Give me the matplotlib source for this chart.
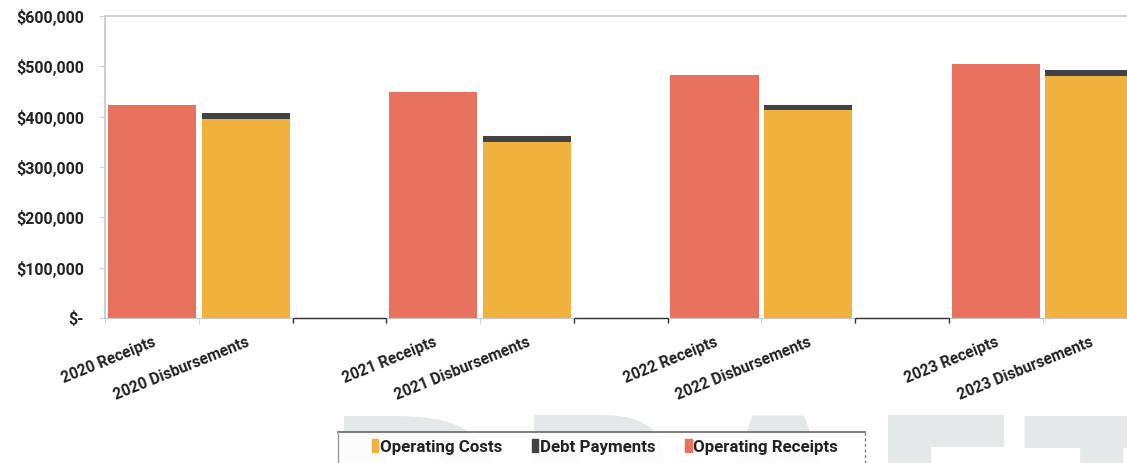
import matplotlib
matplotlib.use("Agg")
import matplotlib.pyplot as plt
from matplotlib.patches import Patch, Rectangle
import numpy as np

# Category slots (blank strings are spacer slots between years)
categories = ["2020 Receipts", "2020 Disbursements", "",
              "2021 Receipts", "2021 Disbursements", "",
              "2022 Receipts", "2022 Disbursements", "",
              "2023 Receipts", "2023 Disbursements"]

operating_receipts = [423000, 0, 0, 450000, 0, 0, 483000, 0, 0, 505000, 0]
operating_costs    = [0, 395000, 0, 0, 350000, 0, 0, 413000, 0, 0, 481000]
debt_payments      = [0, 13000, 0, 0, 12000, 0, 0, 10000, 0, 0, 12000]

y_ticks = [0, 100000, 200000, 300000, 400000, 500000, 600000]

series_names = ["Operating Costs", "Debt Payments", "Operating Receipts"]
c_receipts = "#E9725F"
c_costs = "#F0B23C"
c_debt = "#404246"

plt.rcParams["font.family"] = ["Roboto", "DejaVu Sans"]

W, H = 1127, 463
fig = plt.figure(figsize=(W / 100, H / 100), dpi=100)
ax = fig.add_axes([105 / W, 1 - 318 / H, 1 - 105 / W, (318 - 16) / H])

x = np.arange(len(categories))
w = 0.94
ax.bar(x, operating_receipts, width=w, color=c_receipts, zorder=2)
ax.bar(x, operating_costs, width=w, color=c_costs, zorder=2)
ax.bar(x, debt_payments, width=w, bottom=operating_costs, color=c_debt, zorder=2)


def money(v):
    return "$-" if v == 0 else "${:,.0f}".format(v)


ax.set_yticks(y_ticks, [money(v) for v in y_ticks], fontsize=11.5,
              fontweight="bold", color="#222222", family="Roboto")
ax.tick_params(axis="y", length=4, color="#d0d0d0", pad=11)

# frame: light grey top/left/bottom, no right edge
ax.spines["right"].set_visible(False)
for side in ("top", "left", "bottom"):
    ax.spines[side].set_color("#c8c8c8")
ax.spines["top"].set_linewidth(1.2)
ax.spines["left"].set_linewidth(1.2)

# darker baseline and edge ticks under the spacer slots
gaps = [i for i, c in enumerate(categories) if c == ""]
for g in gaps:
    ax.hlines(0, g - 0.5, g + 0.5, color="#333333", linewidth=1.0, zorder=3,
              clip_on=False)
    for edge in (g - 0.5, g + 0.5):
        ax.vlines(edge, -9000, 0, color="#333333", linewidth=1.0, zorder=3,
                  clip_on=False)

ax.set_xticks(x, categories, rotation=22, ha="right", va="top",
              rotation_mode="anchor", fontsize=11.2, fontweight="bold",
              color="#222222", family="Roboto")
ax.tick_params(axis="x", length=0, pad=12)
ax.set_xticks(np.arange(-0.5, len(categories), 1.0), minor=True)
ax.tick_params(axis="x", which="minor", length=4, color="#c8c8c8")

# limits last: the last disbursement bar runs off the right edge
ax.set_xlim(-0.5, 10.4)
ax.set_ylim(0, 600000)

# watermark
fig.text(0.667, 1 - 408 / H, "DRAFT", fontsize=165, fontweight="bold",
         color="#e5e8e9", ha="center", va="top", zorder=0,
         family=["DejaVu Sans"])

# legend box
fig.patches.append(Rectangle((338 / W, 0), (865 - 338) / W, 1 - 432 / H,
                             transform=fig.transFigure, facecolor="white",
                             alpha=0.85, edgecolor="none", zorder=1))
fig.lines.append(plt.Line2D([338 / W, 865 / W], [1 - 432 / H] * 2,
                            transform=fig.transFigure, color="#666666",
                            linewidth=1.2, zorder=2))
fig.lines.append(plt.Line2D([338 / W] * 2, [0, 1 - 432 / H],
                            transform=fig.transFigure, color="#9a9a9a",
                            linewidth=1.0, zorder=2))
fig.lines.append(plt.Line2D([865 / W] * 2, [0, 1 - 432 / H],
                            transform=fig.transFigure, color="#777777",
                            linewidth=1.0, linestyle=(0, (2, 2)), zorder=2))

handles = [Patch(color=c_costs), Patch(color=c_debt), Patch(color=c_receipts)]
leg = fig.legend(handles, series_names, loc="center left",
                 bbox_to_anchor=(372 / W, 1 - 447 / H), ncol=3,
                 frameon=False, borderpad=0, borderaxespad=0,
                 handlelength=0.38, handleheight=0.8,
                 handletextpad=0.1, columnspacing=1.75,
                 prop={"weight": "bold", "size": 12.2})
leg.set_zorder(3)
for t in leg.get_texts():
    t.set_color("#222222")

fig.savefig("out.png", dpi=100)
